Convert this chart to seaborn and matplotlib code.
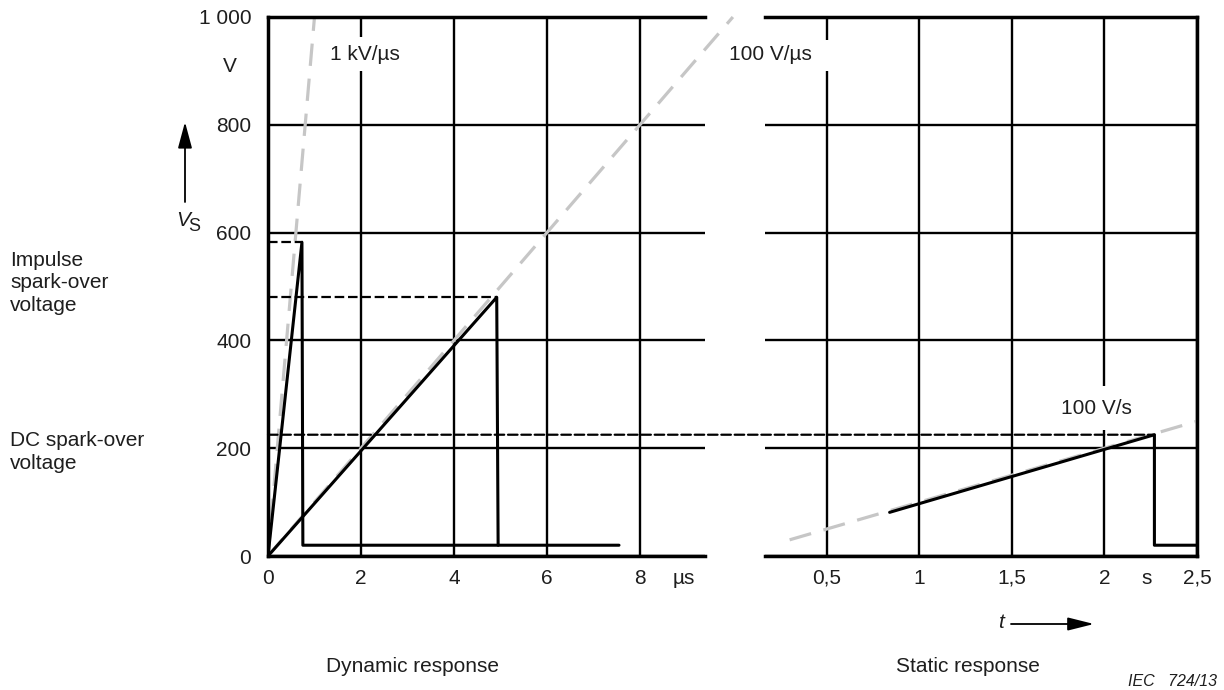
import seaborn as sns
import matplotlib.pyplot as plt
from matplotlib.patches import ConnectionPatch, Rectangle

# dynamic response, time in µs, voltage in V
impulse_t = [0, 0.73, 0.75, 7.55]
impulse_v = [0, 582, 20, 20]
ramp_t = [0, 4.92, 4.95]
ramp_v = [0, 480, 20]
fast_rate_t = [0, 1.0]      # 1 kV/µs
fast_rate_v = [0, 1000]
mid_rate_t = [0, 10.0]      # 100 V/µs
mid_rate_v = [0, 1000]

# static response, time in s
static_t = [0.84, 2.27, 2.27, 2.5]
static_v = [81, 225, 20, 20]
slow_rate_t = [0.3, 2.5]    # 100 V/s
slow_rate_v = [30, 250]

impulse_peak = 582
ramp_peak = 480
dc_level = 225

y_ticks = [0, 200, 400, 600, 800, 1000]
y_labels = ['0', '200', '400', '600', '800', '1 000']
dyn_ticks = [0, 2, 4, 6, 8]
stat_ticks = [0.5, 1, 1.5, 2, 2.5]
stat_labels = ['0,5', '1', '1,5', '2', '2,5']

sns.set_style("white")
plt.rcParams['font.family'] = ['Liberation Sans', 'DejaVu Sans']
plt.rcParams['text.color'] = '#1e1e1e'
plt.rcParams['xtick.color'] = '#1e1e1e'
plt.rcParams['ytick.color'] = '#1e1e1e'

W, H = 1224, 690
fig = plt.figure(figsize=(W / 100, H / 100), dpi=100)


def px(x, y):
    # pixel position (from top left) -> figure fraction
    return x / W, 1 - y / H


ax1 = fig.add_axes([268 / W, (H - 556) / H, (705 - 268) / W, (556 - 17) / H])
ax2 = fig.add_axes([765 / W, (H - 556) / H, (1197 - 765) / W, (556 - 17) / H])

black_dash = (0, (4.3, 1.7))
gray_dash = (0, (7, 4))
gray = '#c6c6c6'

for ax in (ax1, ax2):
    ax.set_ylim(0, 1000)
    ax.set_yticks(y_ticks)
    ax.grid(True, color='black', lw=1.7)
    for s in ax.spines.values():
        s.set_linewidth(2.5)
        s.set_color('black')
    ax.tick_params(length=0, labelsize=15)

# dynamic panel
sns.lineplot(x=fast_rate_t, y=fast_rate_v, ax=ax1, color=gray, lw=2.3,
             linestyle=gray_dash, estimator=None, sort=False, zorder=2)
sns.lineplot(x=mid_rate_t, y=mid_rate_v, ax=ax1, color=gray, lw=2.3,
             linestyle=gray_dash, estimator=None, sort=False, zorder=2)
ax1.lines[-1].set_clip_on(False)
sns.lineplot(x=impulse_t, y=impulse_v, ax=ax1, color='black', lw=2.2,
             estimator=None, sort=False, zorder=3)
sns.lineplot(x=ramp_t, y=ramp_v, ax=ax1, color='black', lw=2.2,
             estimator=None, sort=False, zorder=3)
sns.lineplot(x=[0, impulse_t[2]], y=[impulse_peak, impulse_peak], ax=ax1,
             color='black', lw=1.6, linestyle=black_dash, estimator=None, zorder=3)
sns.lineplot(x=[0, ramp_t[1]], y=[ramp_peak, ramp_peak], ax=ax1,
             color='black', lw=1.6, linestyle=black_dash, estimator=None, zorder=3)

ax1.set_xlim(0, 9.4)
ax1.set_xticks(dyn_ticks)
ax1.set_yticklabels(y_labels)
ax1.spines['right'].set_visible(False)
ax1.tick_params(axis='y', pad=12)
ax1.tick_params(axis='x', pad=9)

# static panel
sns.lineplot(x=slow_rate_t, y=slow_rate_v, ax=ax2, color=gray, lw=2.3,
             linestyle=gray_dash, estimator=None, sort=False, zorder=2)
sns.lineplot(x=static_t, y=static_v, ax=ax2, color='black', lw=2.2,
             estimator=None, sort=False, zorder=3)
ax2.set_xlim(0.167, 2.5)
ax2.set_xticks(stat_ticks)
ax2.set_xticklabels(stat_labels)
ax2.spines['left'].set_visible(False)
ax2.tick_params(axis='y', labelleft=False)
ax2.tick_params(axis='x', pad=9)
ax2.add_patch(Rectangle((0.45, 900), 0.1, 57, fc='white', ec='none', zorder=1))

for ax in (ax1, ax2):
    ax.set_xlabel('')
    ax.set_ylabel('')

# DC spark-over level running across both panels
con = ConnectionPatch(xyA=(0, dc_level), coordsA='data', axesA=ax1,
                      xyB=(static_t[1], dc_level), coordsB='data', axesB=ax2,
                      color='black', lw=1.6, linestyle=black_dash)
fig.add_artist(con)

# labels
fs = 15
fig.text(*px(365, 54), '1 kV/µs', fontsize=fs, ha='center', va='center',
         bbox=dict(boxstyle='square,pad=0.36', fc='white', ec='none'))
fig.text(*px(770, 54), '100 V/µs', fontsize=fs, ha='center', va='center')
fig.text(*px(1096, 408), '100 V/s', fontsize=fs, ha='center', va='center',
         bbox=dict(boxstyle='square,pad=0.6', fc='white', ec='none'))

fig.text(*px(230, 67), 'V', fontsize=fs, ha='center', va='center')
fig.text(*px(183, 221), 'V', fontsize=fs, style='italic', ha='center', va='center')
fig.text(*px(194, 227), 'S', fontsize=13, ha='center', va='center')
ax1.annotate('', xy=px(185, 122), xytext=px(185, 202), xycoords='figure fraction',
             textcoords='figure fraction', annotation_clip=False,
             arrowprops=dict(arrowstyle='-|>,head_length=1.6,head_width=0.43',
                             mutation_scale=10, lw=1.3, color='black',
                             shrinkA=0, shrinkB=0))

fig.text(*px(10, 283), 'Impulse\nspark-over\nvoltage', fontsize=fs,
         ha='left', va='center', linespacing=1.25)
fig.text(*px(10, 452), 'DC spark-over\nvoltage', fontsize=fs,
         ha='left', va='center', linespacing=1.25)

fig.text(*px(684, 578), 'µs', fontsize=fs, ha='center', va='center')
fig.text(*px(1147, 578), 's', fontsize=fs, ha='center', va='center')

fig.text(*px(1001, 623), 't', fontsize=fs, style='italic', ha='center', va='center')
ax2.annotate('', xy=px(1094, 624), xytext=px(1011, 624), xycoords='figure fraction',
             textcoords='figure fraction', annotation_clip=False,
             arrowprops=dict(arrowstyle='-|>,head_length=1.6,head_width=0.4',
                             mutation_scale=10, lw=1.3, color='black',
                             shrinkA=0, shrinkB=0))

fig.text(*px(412, 667), 'Dynamic response', fontsize=fs, ha='center', va='center')
fig.text(*px(968, 667), 'Static response', fontsize=fs, ha='center', va='center')
fig.text(*px(1217, 681), 'IEC   724/13', fontsize=11.5, style='italic',
         ha='right', va='center')

fig.savefig('out.png', dpi=100)
